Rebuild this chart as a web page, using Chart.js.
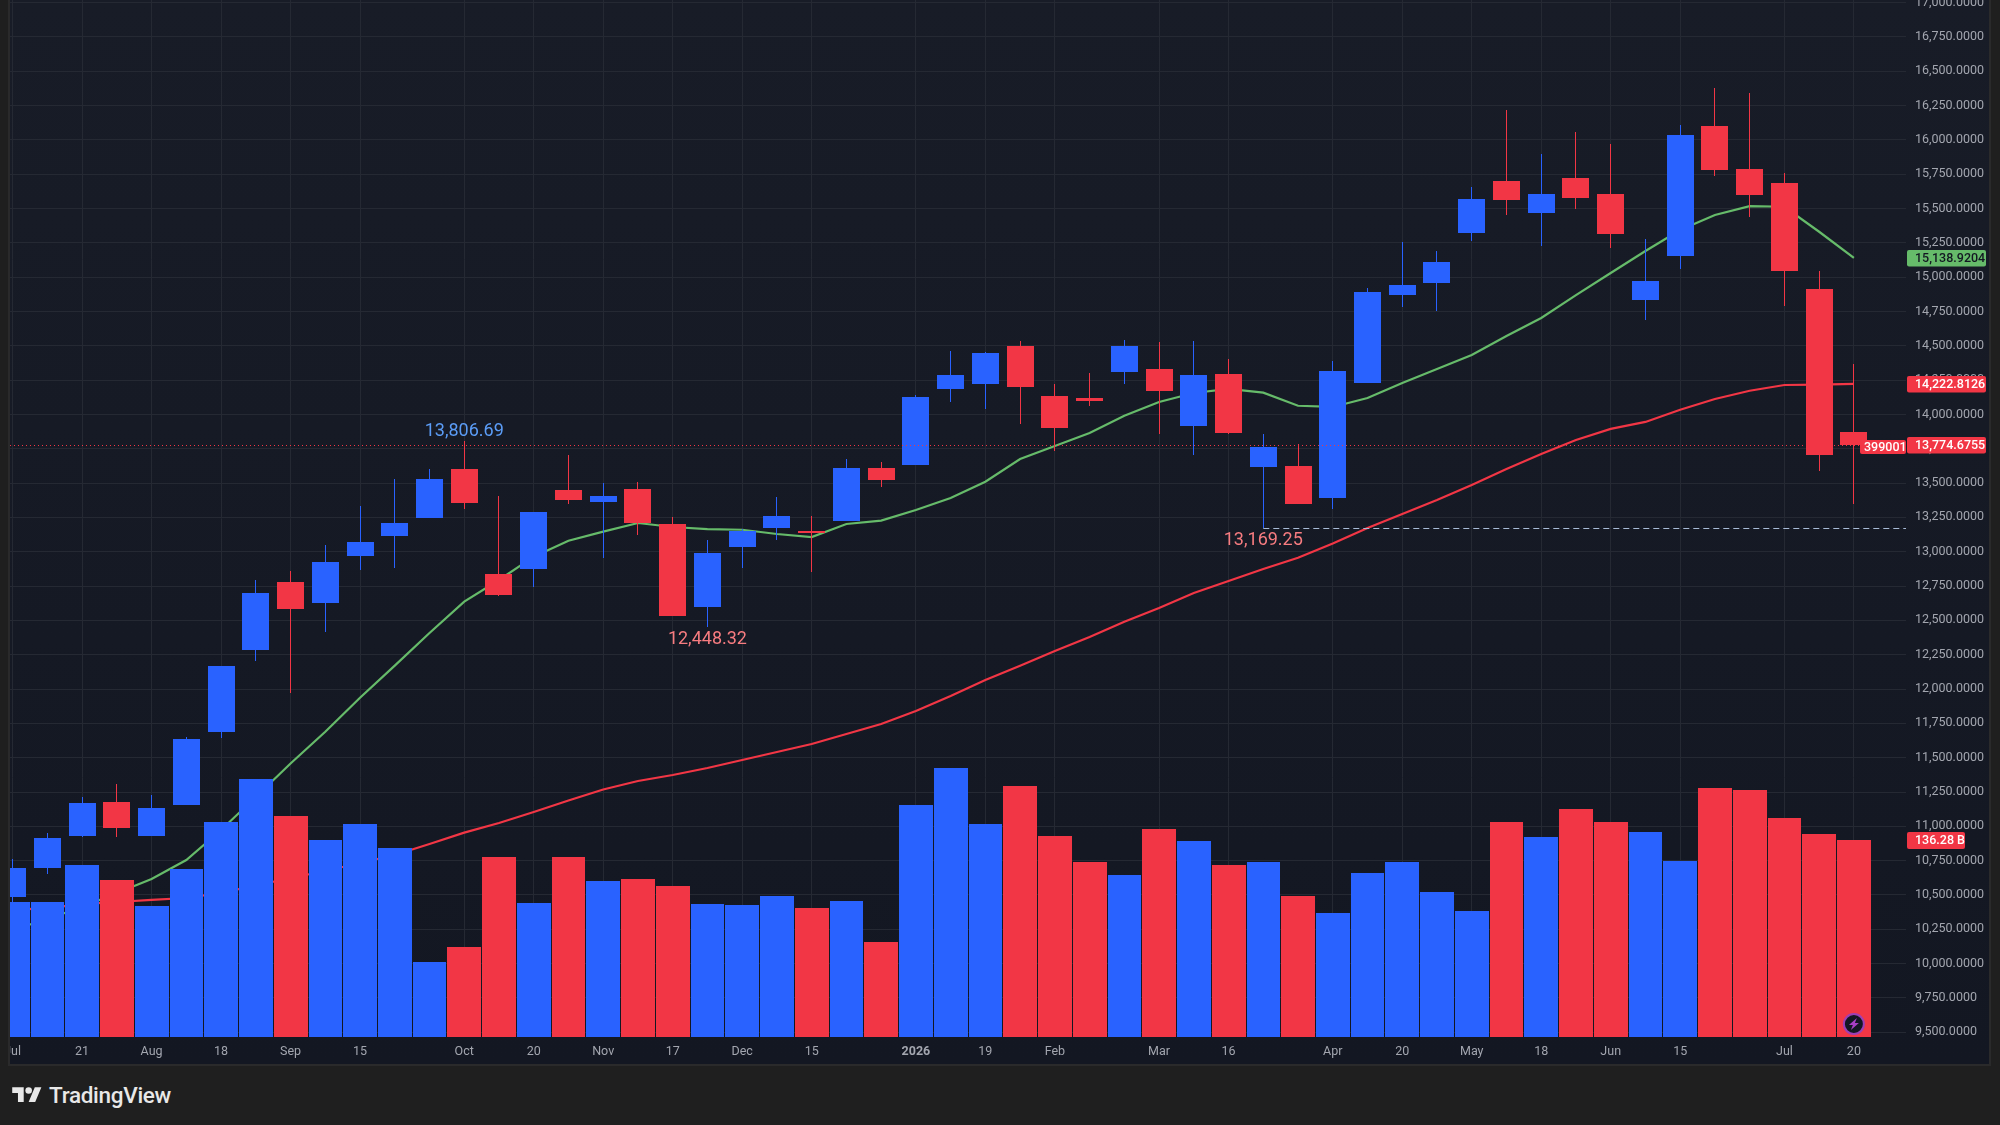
<!DOCTYPE html>
<html lang="en">

<head>
  <meta charset="UTF-8" />
  <title>Weekly candles with volume</title>
  <script src="https://cdn.jsdelivr.net/npm/chart.js"></script>
  <style>
    html, body {
      margin: 0;
      height: 100%;
      background-color: #1f1f1f;
      overflow: hidden;
    }

    .panel {
      position: absolute;
      left: 8px;
      top: 0;
      width: 1979px;
      height: 1064px;
      border: 2px solid #2a2a2b;
      border-top: none;
      background: linear-gradient(#181c27, #131722);
    }

    .brand {
      position: absolute;
      left: 12px;
      top: 1082px;
      display: flex;
      align-items: center;
      color: #e8e8e8;
      font: 500 22.5px Roboto, sans-serif;
      letter-spacing: -0.3px;
    }

    .brand svg {
      width: 30px;
      height: 23px;
      margin-right: 7px;
      fill: #e8e8e8;
    }
  </style>
</head>

<body>
  <div class="panel"><canvas id="chart" width="1979" height="1064"></canvas></div>
  <div class="brand">
    <svg viewBox="0 0 36 28"><path d="M14 22H7V11H0V4h14v18zM28 22h-8l7.5-18h8L28 22z"></path><circle cx="20" cy="8" r="4"></circle></svg>
    <span>TradingView</span>
  </div>

  <script>
    const opens = [10485, 10697, 10930, 11177, 10930, 11155, 11687, 12284, 12779, 12626, 12969, 13114, 13245, 13602,
      12838, 12874, 13449, 13362, 13457, 13202, 12597, 13034, 13173, 13151, 13224, 13610, 13631, 14185, 14221, 14498,
      14134, 14119, 14309, 14330, 13915, 14294, 13617, 13624, 13391, 14229, 14869, 14957, 15321, 15700, 15467, 15721,
      15605, 14833, 15153, 16100, 15787, 15685, 14913, 13872];
    const highs = [10760, 10949, 11214, 11308, 11228, 11651, 12168, 12794, 12859, 13049, 13333, 13529, 13602, 13806.69,
      13406, 13289, 13704, 13500, 13508, 13253, 13085, 13165, 13398, 13260, 13675, 13653, 14141, 14462, 14455, 14534,
      14221, 14301, 14542, 14527, 14534, 14403, 13857, 13784, 14389, 14920, 15255, 15190, 15656, 16217, 15896, 16056,
      15969, 15277, 16107, 16377, 16340, 15758, 15044, 14367];
    const lows = [10449, 10653, 10922, 10922, 10930, 11155, 11643, 12204, 11971, 12415, 12867, 12881, 13245, 13311,
      12677, 12743, 13347, 12954, 13122, 12532, 12448.32, 12881, 13085, 12852, 13224, 13471, 13631, 14090, 14039, 13930,
      13733, 14061, 14221, 13857, 13704, 13857, 13169.25, 13347, 13311, 14229, 14782, 14753, 15263, 15452, 15226, 15496,
      15212, 14687, 15059, 15736, 15437, 14789, 13588, 13347];
    const closes = [10697, 10915, 11170, 10988, 11134, 11636, 12168, 12699, 12583, 12925, 13071, 13209, 13529, 13355,
      12685, 13289, 13376, 13406, 13209, 12532, 12991, 13151, 13260, 13136, 13610, 13522, 14127, 14287, 14447, 14199,
      13901, 14097, 14498, 14170, 14287, 13864, 13762, 13347, 14316, 14891, 14942, 15110, 15568, 15561, 15605, 15576,
      15314, 14971, 16035, 15780, 15598, 15044, 13704, 13774.6755];

    // 20 and 50 period averages drawn over the candles
    const fastAverage = [10245, 10325, 10413, 10515, 10616, 10755, 10973, 11214, 11458, 11689, 11937, 12170, 12408, 12636,
      12794, 12964, 13080, 13146, 13209, 13180, 13165, 13160, 13129, 13107, 13202, 13226, 13304, 13391, 13510, 13675,
      13770, 13864, 13990, 14090, 14156, 14185, 14158, 14063, 14054, 14119, 14229, 14330, 14432, 14571, 14702, 14869,
      15030, 15190, 15343, 15452, 15517, 15512, 15330, 15138.9204];
    const slowAverage = [10391, 10405, 10434, 10449, 10464, 10478, 10515, 10569, 10624, 10675, 10733, 10791, 10871, 10954,
      11024, 11104, 11188, 11268, 11330, 11374, 11425, 11483, 11541, 11600, 11672, 11745, 11840, 11949, 12066, 12170,
      12277, 12379, 12490, 12590, 12699, 12787, 12874, 12956, 13060, 13173, 13275, 13376, 13486, 13602, 13711, 13813,
      13894, 13945, 14034, 14112, 14172, 14214, 14216, 14222.8126];

    // volume in billions
    const volumes = [93.4, 93.4, 119.0, 108.6, 90.6, 116.2, 148.7, 178.5, 152.9, 136.3, 147.4, 130.8, 51.9, 62.3,
      124.5, 92.7, 124.5, 107.9, 109.3, 104.5, 92.0, 91.3, 97.5, 89.2, 94.1, 65.7, 160.5, 186.1, 147.4, 173.6,
      139.1, 121.1, 112.1, 143.9, 135.6, 119.0, 121.1, 97.5, 85.8, 113.5, 121.1, 100.3, 87.2, 148.7, 138.4, 157.7,
      148.7, 141.8, 121.8, 172.3, 170.9, 151.5, 140.4, 136.28];

    const timeTicks = [0, 2, 4, 6, 8, 10, 13, 15, 17, 19, 21, 23, 26, 28, 30, 33, 35, 38, 40, 42, 44, 46, 48, 51, 53];
    const timeLabels = ['Jul', '21', 'Aug', '18', 'Sep', '15', 'Oct', '20', 'Nov', '17', 'Dec', '15', '2026', '19', 'Feb',
      'Mar', '16', 'Apr', '20', 'May', '18', 'Jun', '15', 'Jul', '20'];
    const priceTicks = [9500, 9750, 10000, 10250, 10500, 10750, 11000, 11250, 11500, 11750, 12000, 12250, 12500, 12750,
      13000, 13250, 13500, 13750, 14000, 14250, 14500, 14750, 15000, 15250, 15500, 15750, 16000, 16250, 16500, 16750, 17000];

    const BLUE = '#2962ff';
    const RED = '#f23645';
    const GREEN = '#66bb6a';
    const FONT = 'Roboto, sans-serif';

    const candleColors = opens.map((o, i) => (closes[i] >= o ? BLUE : RED));
    const floating = (a, b) => a.map((v, i) => ({ x: i, y: [v, b[i]] }));
    const lineOf = values => values.map((v, i) => ({ x: i, y: v }));

    // the axes must not pull the plot in to make room for their first and last labels
    const noScalePadding = scale => {
      scale.paddingLeft = scale.paddingRight = scale.paddingTop = scale.paddingBottom = 0;
    };

    // bars land on whole pixels so wicks stay 1px wide and edges stay sharp
    const snapBars = {
      id: 'snapBars',
      afterDatasetsUpdate(chart) {
        chart.data.datasets.forEach((ds, n) => {
          if (ds.type !== 'bar') return;
          const meta = chart.getDatasetMeta(n);
          const step = chart.scales.x.getPixelForValue(1) - chart.scales.x.getPixelForValue(0);
          meta.data.forEach(bar => {
            if (ds.label === 'Wicks') {
              bar.x = Math.floor(bar.x) + 0.5;
              bar.width = 1;
            } else if (ds.label === 'Volume') {
              const l = Math.round(bar.x - step / 2 + 0.6);
              const r = Math.round(bar.x + step / 2 - 0.4);
              bar.x = (l + r) / 2;
              bar.width = r - l;
            } else {
              bar.x = Math.floor(bar.x) + 0.5;
              bar.width = 27;
            }
            bar.y = Math.round(bar.y);
            bar.base = Math.round(bar.base);
          });
        });
      }
    };

    function priceBox(ctx, left, top, w, h, bg, fg, text, inset) {
      ctx.fillStyle = bg;
      ctx.beginPath();
      ctx.roundRect(left, top, w, h, 2);
      ctx.fill();
      ctx.fillStyle = fg;
      ctx.font = '500 12.5px ' + FONT;
      ctx.textAlign = 'left';
      ctx.textBaseline = 'middle';
      ctx.fillText(text, left + inset, top + h / 2 + 0.5);
    }

    // price lines under the axis tags, plus the high/low notes
    const overlays = {
      id: 'overlays',
      afterDatasetsDraw(chart) {
        const { ctx, chartArea: area, scales } = chart;
        const x = scales.x;
        const y = scales.y;
        const last = closes.length - 1;
        ctx.save();

        ctx.lineWidth = 1;
        ctx.strokeStyle = RED;
        ctx.setLineDash([1, 3]);
        ctx.beginPath();
        ctx.moveTo(area.left, Math.round(y.getPixelForValue(closes[last])) + 0.5);
        ctx.lineTo(area.right, Math.round(y.getPixelForValue(closes[last])) + 0.5);
        ctx.stroke();

        ctx.strokeStyle = '#a8bbd6';
        ctx.setLineDash([6, 4]);
        ctx.beginPath();
        ctx.moveTo(x.getPixelForValue(36), Math.round(y.getPixelForValue(13169.25)) + 0.5);
        ctx.lineTo(area.right, Math.round(y.getPixelForValue(13169.25)) + 0.5);
        ctx.stroke();
        ctx.setLineDash([]);

        ctx.font = '18px ' + FONT;
        ctx.textAlign = 'center';
        ctx.textBaseline = 'middle';
        ctx.fillStyle = '#5b9cf6';
        ctx.fillText('13,806.69', x.getPixelForValue(13), y.getPixelForValue(13806.69) - 9);
        ctx.fillStyle = '#f77c80';
        ctx.fillText('12,448.32', x.getPixelForValue(20), y.getPixelForValue(12448.32) + 12);
        ctx.fillText('13,169.25', x.getPixelForValue(36), y.getPixelForValue(13169.25) + 12);

        // lightning badge on the newest bar
        const bx = x.getPixelForValue(last);
        const by = area.bottom - 13;
        ctx.fillStyle = '#131722';
        ctx.strokeStyle = '#9c3fb5';
        ctx.lineWidth = 2;
        ctx.beginPath();
        ctx.arc(bx, by, 10, 0, Math.PI * 2);
        ctx.fill();
        ctx.stroke();
        ctx.fillStyle = '#a73fc4';
        ctx.beginPath();
        ctx.moveTo(bx + 3, by - 6);
        ctx.lineTo(bx - 5, by + 1);
        ctx.lineTo(bx - 1, by + 1);
        ctx.lineTo(bx - 3, by + 6);
        ctx.lineTo(bx + 5, by - 1);
        ctx.lineTo(bx + 1, by - 1);
        ctx.closePath();
        ctx.fill();
        ctx.restore();
      },
      afterDraw(chart) {
        const { ctx, chartArea: area, scales } = chart;
        const y = scales.y;
        const left = area.right + 1;
        const last = closes.length - 1;
        const tag = (value, bg, fg, text) => {
          priceBox(ctx, left, Math.round(y.getPixelForValue(value)) - 8, 79, 16.5, bg, fg, text, 8);
        };
        ctx.save();
        tag(fastAverage[last], GREEN, '#131722', '15,138.9204');
        tag(slowAverage[last], RED, '#ffffff', '14,222.8126');
        tag(closes[last], RED, '#ffffff', '13,774.6755');
        priceBox(ctx, area.right - 46, Math.round(y.getPixelForValue(closes[last])) - 5, 46, 14, RED, '#ffffff', '399001', 4);
        priceBox(ctx, left, Math.round(scales.volume.getPixelForValue(volumes[last])) - 8, 58, 17, RED, '#ffffff', '136.28 B', 8);
        ctx.restore();
      }
    };

    Chart.defaults.font.family = FONT;
    Chart.defaults.animation = false;

    new Chart(document.getElementById('chart'), {
      type: 'bar',
      data: {
        datasets: [
          { type: 'bar', label: 'Volume', order: 0, yAxisID: 'volume', grouped: false, data: lineOf(volumes), backgroundColor: candleColors },
          { type: 'bar', label: 'Candles', order: 1, yAxisID: 'y', grouped: false, data: floating(opens, closes), backgroundColor: candleColors },
          { type: 'bar', label: 'Wicks', order: 2, yAxisID: 'y', grouped: false, data: floating(lows, highs), backgroundColor: candleColors },
          { type: 'line', label: 'Fast average', order: 3, yAxisID: 'y', data: lineOf(fastAverage), borderColor: GREEN, borderWidth: 2.2, pointRadius: 0 },
          { type: 'line', label: 'Slow average', order: 3, yAxisID: 'y', data: lineOf(slowAverage), borderColor: RED, borderWidth: 2.2, pointRadius: 0 }
        ]
      },
      plugins: [snapBars, overlays],
      options: {
        responsive: false,
        layout: { autoPadding: false, padding: 0 },
        plugins: {
          legend: { display: false },
          tooltip: { enabled: false }
        },
        scales: {
          x: {
            type: 'linear',
            offset: false,
            min: -0.075,
            max: 54.5,
            afterBuildTicks: scale => { scale.ticks = timeTicks.map(v => ({ value: v })); },
            afterFit: scale => { scale.height = 27; noScalePadding(scale); },
            grid: { color: '#252933', drawTicks: false, offset: false },
            border: { display: false },
            ticks: {
              autoSkip: false,
              maxRotation: 0,
              padding: 7,
              color: '#a3a6af',
              font: c => ({ size: 12.5, weight: c.index === timeLabels.indexOf('2026') ? 'bold' : 'normal' }),
              callback: (v, i) => timeLabels[i]
            }
          },
          y: {
            position: 'right',
            min: 9465.9,
            max: 17017.7,
            afterBuildTicks: scale => { scale.ticks = priceTicks.map(v => ({ value: v })); },
            afterFit: scale => { scale.width = 83; noScalePadding(scale); },
            grid: { color: '#252933', drawTicks: false },
            border: { display: false },
            ticks: {
              padding: 9,
              color: '#a3a6af',
              font: { size: 12.5 },
              callback: v => v.toLocaleString('en-US', { minimumFractionDigits: 4 })
            }
          },
          volume: {
            display: false,
            min: 0,
            max: 717.4
          }
        }
      }
    });
  </script>
</body>

</html>
